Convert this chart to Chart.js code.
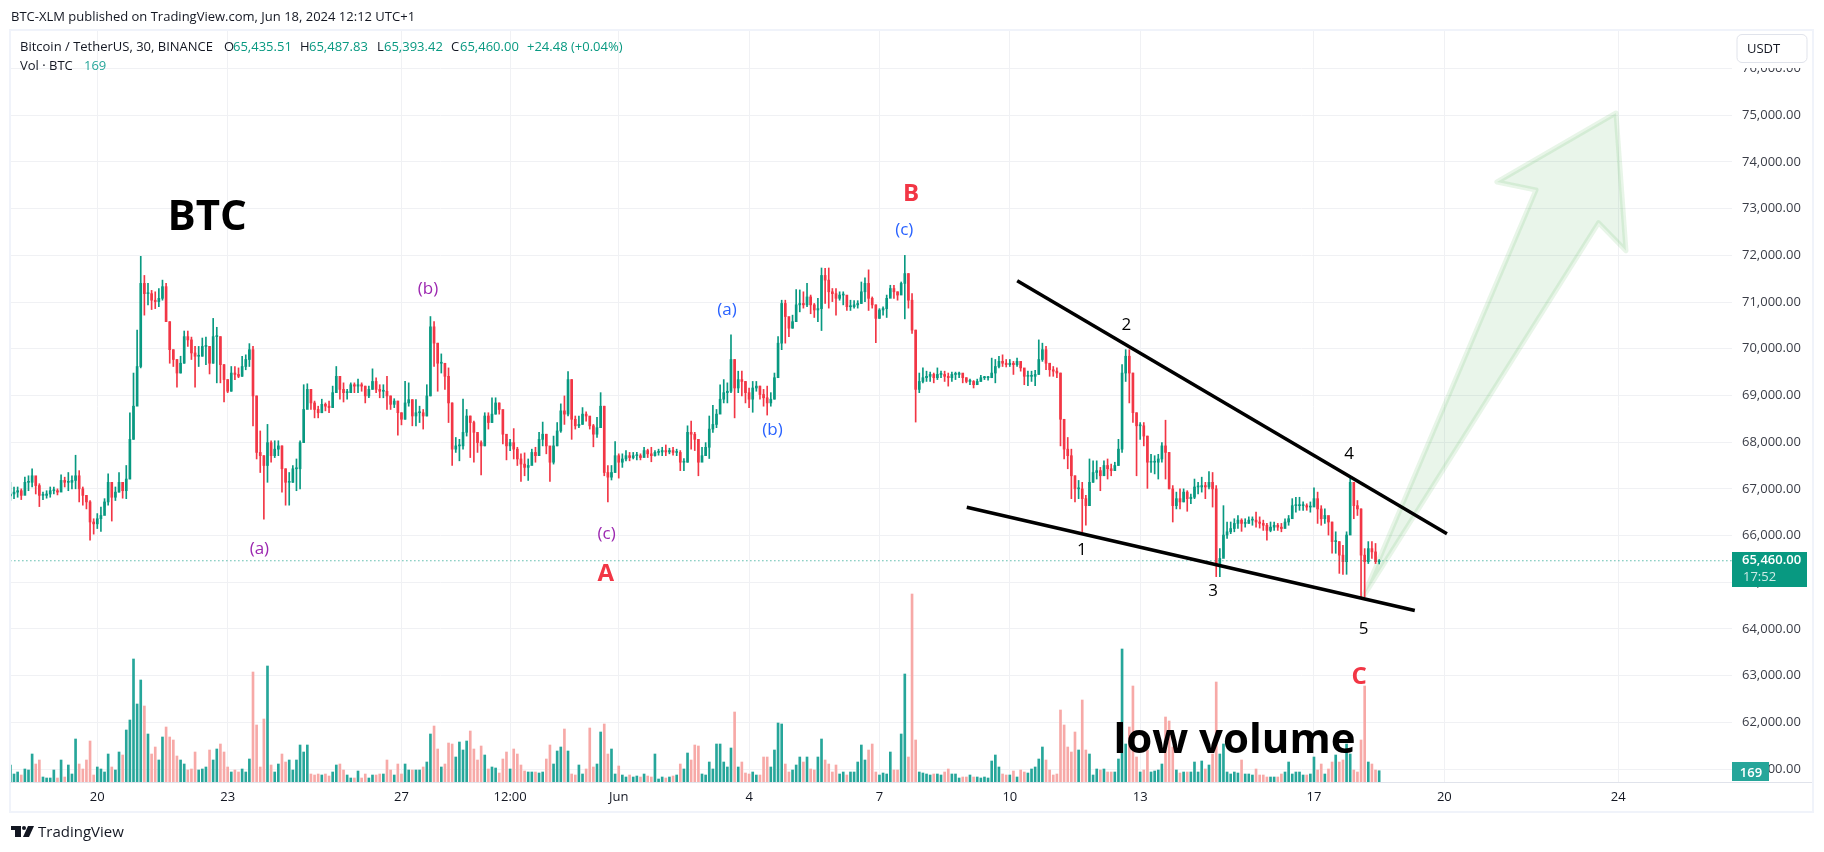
<!DOCTYPE html>
<html>
<head>
<meta charset="utf-8">
<title>BTC 30m</title>
<script src="https://cdn.jsdelivr.net/npm/chart.js@4"></script>
<style>
	body { margin: 0; background: #fff; }
	canvas { display: block; }
</style>
</head>
<body>
<canvas id="btc" width="1824" height="852"></canvas>
<script>
// BTCUSDT, one bar per 2 hours. Day 0 is May 20.
const firstDay = -2;
const barsPerDay = 12;
const firstOpen = 66850;

const closes = [
66890,66930,66960,66860,67140,67140,67280,67070,66860,66860,66890,66960,
66960,66930,67180,67140,67140,67180,67280,67000,66860,66720,66290,66250,
66360,66430,66720,67140,66820,66930,67140,66960,67210,68060,68770,69620,71400,71180,71180,71040,71010,71080,71330,70580,69980,69770,69480,69690,
70260,70190,69910,69840,69840,70050,70050,69690,70260,70260,69660,69340,
69090,69480,69450,69410,69620,69770,69980,68990,67780,67710,67500,67990,
67710,67850,67920,67430,67140,67140,67430,67430,67990,68700,69130,68840,
68700,68630,68810,68770,68740,69060,69410,69130,69060,69060,69230,69200,
69230,69200,68990,69130,69300,69130,69090,69090,68990,68810,68880,68630,
68490,68840,68910,68560,68630,68630,68560,68990,70470,70120,69690,69690,
69410,68840,67850,67920,67920,68210,68560,68420,68210,67990,67920,68560,
68420,68600,68840,68700,68170,67920,67990,67850,67640,67530,67460,67500,
67780,67710,68060,68170,67920,67570,67920,68240,68670,68600,69340,68490,
68350,68380,68600,68560,68350,68170,68310,68770,67350,67250,67350,67710,
67570,67640,67710,67670,67710,67710,67670,67820,67750,67710,67780,67790,
67820,67790,67820,67780,67780,67570,67570,68210,68170,68060,67570,67710,
67890,68280,68380,68600,68920,69060,69090,69770,69160,69340,69300,69060,
68920,69160,69200,69020,68950,68840,68920,69380,70120,70970,70690,70440,
70580,70940,70970,70940,71110,70940,70830,70860,71570,71470,71220,71180,
71080,71150,71150,70900,70900,70940,70970,71220,71400,71080,70940,70650,
70830,70860,71080,71290,71220,71150,71400,71610,71040,70400,69130,69300,
69380,69410,69450,69380,69450,69450,69410,69380,69450,69450,69480,69380,
69300,69300,69230,69300,69380,69380,69380,69480,69620,69730,69690,69660,
69690,69660,69730,69590,69410,69410,69410,69450,69770,69980,69690,69550,
69520,69480,68490,67850,67710,67280,67000,67000,66790,66640,67140,67350,
67390,67280,67500,67430,67390,67500,67850,69480,69840,69480,68630,68350,
68350,68130,67570,67570,67570,67640,67920,67780,67000,66640,66790,66720,
66930,66790,66820,67040,67040,67070,67040,67140,67000,65370,65510,66010,
66080,66150,66260,66330,66260,66260,66330,66330,66290,66260,66220,66110,
66180,66220,66180,66150,66290,66360,66640,66640,66640,66640,66610,66610,
66790,66570,66360,66430,66290,65870,65870,65580,65440,66010,67140,66640,
66570,65580,65440,65720,65650,65440,65460
];
const highs = [
67140,67040,67040,67000,67250,67280,67430,67250,67110,66930,66960,67040,
67040,67000,67300,67250,67350,67280,67720,67390,67040,66860,66750,66360,
66470,66610,66790,67320,67000,67040,67350,67140,67500,68630,69480,70400,71980,71570,71400,71250,71220,71290,71470,71400,70580,69980,69770,69840,
70380,70380,70250,70050,70050,70230,70250,70050,70650,70460,70260,69660,
69340,69620,69620,69590,69840,69870,70110,70050,68990,68240,67710,68380,
68030,68030,68030,67920,67430,67350,67500,67640,68030,69230,69250,69130,
68880,68770,68920,68840,68880,69200,69620,69410,69270,69130,69270,69270,
69350,69270,69200,69200,69570,69380,69230,69230,69410,68990,68930,68880,
68630,69300,69270,68910,68910,68770,68700,69230,70690,70580,70120,69890,
69690,69590,68840,68100,68060,68920,68700,68560,68450,68170,68030,68630,
68630,68950,68950,68840,68670,68060,68060,68290,67890,67750,67770,67640,
67850,67890,68210,68430,68170,67890,68130,68420,68820,68990,69510,69340,
68560,68560,68740,68650,68530,68380,68530,69060,68770,67500,67500,68010,
67750,67750,67820,67780,67780,67780,67750,67890,67850,67890,67820,67850,
67890,67940,67870,67890,67850,67820,67650,68350,68450,68210,68060,67890,
67990,68560,68790,68700,69230,69340,69270,70300,69770,69520,69520,69300,
69160,69300,69300,69200,69130,69200,69060,69480,70260,71040,71040,70650,
70720,71270,71260,71220,71400,71150,70970,71080,71730,71720,71730,71290,
71290,71220,71220,71100,71040,71030,71030,71430,71520,71690,71110,70940,
70860,70900,71150,71360,71360,71220,71430,72000,71610,71180,70400,69480,
69590,69520,69500,69480,69590,69520,69520,69480,69500,69500,69500,69450,
69380,69350,69320,69350,69430,69410,69410,69800,69770,69840,69870,69770,
69770,69730,69800,69690,69550,69520,69520,69540,70190,70120,70050,69690,
69620,69590,69480,68490,68100,67850,67280,67180,67140,66860,67640,67600,
67600,67460,67600,67640,67530,67570,68060,69660,69980,69980,69480,68630,
68420,68420,68130,67740,67710,67740,67990,68470,67780,67070,66930,67000,
67000,66960,66890,67210,67140,67250,67140,67370,67350,67070,65720,66640,
66290,66290,66360,66430,66360,66360,66400,66400,66500,66400,66330,66260,
66290,66290,66260,66260,66360,66430,66790,66820,66820,66720,66680,66720,
67020,66930,66640,66570,66400,66290,66080,65870,65790,66080,67280,66930,
66750,66570,65720,65870,65870,65830,65487.83
];
const lows = [
66750,66790,66820,66770,66890,66960,67040,66890,66620,66770,66800,66820,
66890,66870,66960,67040,66960,67000,67000,66720,66650,66570,65900,66030,
66150,66090,66610,66650,66310,66750,66930,66800,66790,67210,68060,68920,69590,70720,70940,70840,70860,70900,71040,70580,69690,69620,69180,69480,
69690,70050,69770,69180,69620,69840,69660,69460,69690,69270,69270,68860,
69060,69090,69340,69380,69410,69550,69620,68350,67640,67350,66350,67140,
67570,67670,67710,66930,66650,66650,67140,66960,67000,67990,68770,68700,
68520,68520,68630,68670,68630,68740,69060,68920,68860,68920,69060,69060,
69060,69090,68840,68950,69130,69060,68950,68950,68700,68700,68740,68150,
68370,68490,68770,68350,68350,68420,68280,68560,68990,69620,69090,69480,
69130,68420,67500,67780,67600,67850,68130,67670,67570,67780,67300,67920,
68280,68420,68600,68600,67960,67620,67820,67640,67500,67160,67280,67180,
67600,67570,67710,67920,67750,67160,67530,67920,68210,68380,68560,68060,
68280,68310,68380,68450,68280,67900,68100,68310,67280,66720,67190,67350,
67230,67460,67600,67600,67640,67620,67620,67710,67670,67580,67700,67720,
67710,67710,67750,67720,67710,67390,67390,67570,67850,67820,67280,67600,
67710,67650,68210,68310,68630,68840,68840,69060,68520,69060,68990,68840,
68740,68640,69090,68920,68770,68580,68770,68920,69870,69980,70120,70260,
70440,70650,70790,70870,70900,70750,70670,70580,70390,70970,70870,71010,
70720,71040,70940,70820,70820,70870,70870,70970,71010,70820,70870,70130,
70650,70720,70670,71110,71080,71040,71190,70640,70870,70330,68430,69060,
69270,69300,69300,69270,69340,69380,69300,69200,69300,69340,69380,69270,
69270,69230,69160,69250,69300,69340,69330,69380,69270,69590,69620,69610,
69620,69450,69620,69520,69230,69210,69300,69210,69450,69730,69550,69410,
69410,69380,67920,67640,67430,66790,66720,66790,66080,66220,66640,67140,
67210,66960,67280,67210,67280,67390,67500,67780,69300,68840,68420,67280,
68060,67920,67010,67350,67320,67210,67570,67210,67000,66290,66570,66570,
66720,66520,66680,66790,66890,66930,66790,67000,66610,65120,65120,65550,
65940,66040,66080,66150,66090,66180,66260,66220,66180,66160,66110,65900,
66080,66110,66110,66080,66180,66220,66500,66500,66540,66540,66540,66500,
66640,66260,66220,66260,66010,65620,65620,65190,65170,65170,66180,66360,
66430,64690,64690,65400,65510,65400,65393.42
];
const volumes = [
255,120,150,105,195,180,420,270,330,75,60,60,
180,60,330,75,255,120,645,270,195,330,615,105,
225,195,150,420,225,180,450,405,780,930,1845,1170,1530,1140,720,420,525,330,675,825,675,630,390,330,
270,180,195,450,180,195,225,480,330,495,570,450,
225,150,180,150,195,150,345,1650,855,225,945,1740,
255,150,270,420,300,330,180,330,555,450,555,120,
105,120,105,120,90,150,255,270,180,105,60,60,
165,60,120,60,105,105,120,120,330,180,105,270,
120,270,180,180,180,180,225,300,720,840,495,225,
270,585,570,375,600,480,615,765,495,330,540,405,
195,225,210,135,345,450,195,495,420,255,165,150,
150,150,135,150,345,555,270,465,525,795,465,120,
105,255,120,195,810,225,270,750,870,420,495,120,
240,105,75,105,75,90,75,120,90,75,420,45,
75,60,75,90,105,270,195,435,330,555,540,120,
105,300,195,570,570,300,225,510,1050,225,300,135,
120,150,105,105,375,375,225,480,885,870,270,150,
180,255,375,300,375,195,180,375,645,330,270,150,
255,120,150,105,150,150,300,555,330,480,570,150,
105,135,120,450,180,180,720,1620,375,2820,630,150,
135,120,105,120,120,105,150,195,120,120,60,75,
75,105,75,75,60,75,60,315,405,225,120,105,
105,165,75,180,150,135,195,225,345,525,330,180,
105,120,1080,855,525,450,750,480,1230,480,420,105,
195,180,195,150,150,150,345,1995,570,825,1440,375,
150,180,480,150,165,180,270,975,915,525,180,135,
150,150,150,300,150,315,195,255,420,1500,420,570,
150,120,150,135,330,120,120,105,195,105,105,75,
75,75,75,120,150,300,120,150,150,105,105,120,
375,180,270,120,195,300,405,300,330,570,420,180,
150,630,1440,300,270,180,169
];

// axis ticks
const tickDays = [0, 3, 7, 9.5, 12, 15, 18, 21, 24, 28, 31, 35];
const tickLabels = ['20', '23', '27', '12:00', 'Jun', '4', '7', '10', '13', '17', '20', '24'];
const priceTicks = [61000, 62000, 63000, 64000, 65000, 66000, 67000, 68000, 69000, 70000, 71000, 72000, 73000, 74000, 75000, 76000];

// drawings on the chart (day, price)
const upperLineDays = [21.17, 31.06];
const upperLinePrices = [71456, 66036];
const lowerLineDays = [20.01, 30.32];
const lowerLinePrices = [66607, 64394];
const arrowDays = [34.95, 32.21, 33.11, 29.13, 34.55, 35.18];
const arrowPrices = [75049, 73572, 73400, 64686, 72700, 72100];
const lastPrice = 65460;

const noteTexts = ['BTC', '(b)', '(a)', '(c)', 'A', '(a)', '(b)', '(c)', 'B', '2', '1', '3', '4', '5', 'C', 'low volume'];
const noteDays = [2.53, 7.61, 3.73, 11.72, 11.70, 14.49, 15.54, 18.57, 18.73, 23.68, 22.66, 25.68, 28.81, 29.14, 29.04, 26.17];
const notePrices = [72810, 71281, 65716, 66036, 65180, 70832, 68263, 72545, 73310, 70510, 65688, 64802, 67743, 63997, 62960, 61610];
const noteKinds = ['big', 'pur', 'pur', 'pur', 'red', 'blu', 'blu', 'blu', 'red', 'blk', 'blk', 'blk', 'blk', 'blk', 'red', 'big'];

const GREEN = '#089981';
const RED = '#f23645';
const FONT = '"Open Sans", sans-serif';
const noteStyle = {
	big: ['700 42px ' + FONT, '#000000'],
	pur: ['17px ' + FONT, '#9c27b0'],
	blu: ['17px ' + FONT, '#2962ff'],
	red: ['700 24px ' + FONT, RED],
	blk: ['17px ' + FONT, '#000000']
};

const barDays = closes.map((c, i) => firstDay + i / barsPerDay);
const opens = closes.map((c, i) => i ? closes[i - 1] : firstOpen);
const barUp = closes.map((c, i) => c >= opens[i]);

function text(ctx, str, x, y, font, color, align) {
	ctx.font = font;
	ctx.fillStyle = color;
	ctx.textAlign = align || 'left';
	ctx.textBaseline = 'middle';
	ctx.fillText(str, x, y);
}

// the green arrow goes under the candles
const arrowPlugin = {
	id: 'arrow',
	beforeDatasetsDraw(chart) {
		const {ctx, scales, chartArea} = chart;
		ctx.save();
		ctx.beginPath();
		ctx.rect(chartArea.left, chartArea.top, chartArea.width, chartArea.height);
		ctx.clip();
		ctx.beginPath();
		arrowDays.forEach((d, i) => {
			ctx.lineTo(scales.x.getPixelForValue(d), scales.y.getPixelForValue(arrowPrices[i]));
		});
		ctx.closePath();
		ctx.fillStyle = 'rgba(76,175,80,0.12)';
		ctx.fill();
		ctx.lineJoin = 'round';
		ctx.lineWidth = 5;
		ctx.strokeStyle = 'rgba(76,175,80,0.13)';
		ctx.stroke();
		ctx.restore();
	}
};

// text, frame and price tags of the TradingView snapshot
const framePlugin = {
	id: 'frame',
	afterDraw(chart) {
		const {ctx, scales} = chart;
		ctx.save();

		noteTexts.forEach((t, i) => {
			const st = noteStyle[noteKinds[i]];
			text(ctx, t, scales.x.getPixelForValue(noteDays[i]), scales.y.getPixelForValue(notePrices[i]), st[0], st[1], 'center');
		});

		// frame
		ctx.strokeStyle = '#f0f3fa';
		ctx.lineWidth = 2;
		ctx.strokeRect(10, 30, 1803, 782);
		ctx.strokeStyle = '#e0e3eb';
		ctx.lineWidth = 1;
		ctx.beginPath();
		ctx.moveTo(10, 782.5);
		ctx.lineTo(1812, 782.5);
		ctx.stroke();

		// hide the part of the 76,000 label above the plot
		ctx.fillStyle = '#ffffff';
		ctx.fillRect(1736, 32, 76, 36);

		// header + legend
		const f13 = '13px ' + FONT;
		text(ctx, 'BTC-XLM published on TradingView.com, Jun 18, 2024 12:12 UTC+1', 11, 17, f13, '#131722');
		text(ctx, 'Bitcoin / TetherUS, 30, BINANCE', 20, 47, f13, '#131722');
		text(ctx, 'O', 224, 47, f13, '#131722');
		text(ctx, '65,435.51', 233, 47, f13, GREEN);
		text(ctx, 'H', 300, 47, f13, '#131722');
		text(ctx, '65,487.83', 309, 47, f13, GREEN);
		text(ctx, 'L', 377, 47, f13, '#131722');
		text(ctx, '65,393.42', 384, 47, f13, GREEN);
		text(ctx, 'C', 451, 47, f13, '#131722');
		text(ctx, '65,460.00', 460, 47, f13, GREEN);
		text(ctx, '+24.48 (+0.04%)', 527, 47, f13, GREEN);
		text(ctx, 'Vol · BTC', 20, 66, f13, '#131722');
		text(ctx, '169', 84, 66, f13, '#26a69a');

		// USDT button
		ctx.fillStyle = '#ffffff';
		ctx.strokeStyle = '#e0e3eb';
		ctx.beginPath();
		ctx.roundRect(1737, 34.5, 70, 28, 5);
		ctx.fill();
		ctx.stroke();
		text(ctx, 'USDT', 1747, 49, f13, '#131722');

		// last price tag
		ctx.fillStyle = GREEN;
		ctx.fillRect(1732, 552, 75, 35);
		text(ctx, '65,460.00', 1742, 560, '600 13px ' + FONT, '#ffffff');
		text(ctx, '17:52', 1743, 577, f13, 'rgba(255,255,255,0.8)');

		// volume tag
		ctx.fillStyle = '#26a69a';
		ctx.fillRect(1732, 762, 37, 19);
		text(ctx, '169', 1751, 773, '600 13px ' + FONT, '#ffffff', 'center');

		// TradingView mark
		ctx.fillStyle = '#131722';
		ctx.fillRect(11, 826, 10, 4);
		ctx.fillRect(15, 826, 6, 11);
		ctx.beginPath();
		ctx.arc(24, 828, 2, 0, Math.PI * 2);
		ctx.fill();
		ctx.beginPath();
		ctx.moveTo(28, 826);
		ctx.lineTo(34, 826);
		ctx.lineTo(29, 837);
		ctx.lineTo(23, 837);
		ctx.closePath();
		ctx.fill();
		text(ctx, 'TradingView', 38, 833, '15px ' + FONT, '#131722');

		ctx.restore();
	}
};

new Chart(document.getElementById('btc'), {
	type: 'bar',
	data: {
		datasets: [
			{
				type: 'line',
				order: 1,
				data: upperLineDays.map((d, i) => ({x: d, y: upperLinePrices[i]})),
				borderColor: '#000000',
				borderWidth: 3.5,
				pointRadius: 0
			},
			{
				type: 'line',
				order: 1,
				data: lowerLineDays.map((d, i) => ({x: d, y: lowerLinePrices[i]})),
				borderColor: '#000000',
				borderWidth: 3.5,
				pointRadius: 0
			},
			{
				type: 'line',
				order: 2,
				data: [{x: firstDay, y: lastPrice}, {x: 38, y: lastPrice}],
				borderColor: GREEN,
				borderWidth: 1,
				borderDash: [1, 3],
				pointRadius: 0
			},
			{
				// candle bodies
				order: 3,
				data: barDays.map((d, i) => ({x: d, y: [opens[i], closes[i]]})),
				backgroundColor: barUp.map(up => up ? GREEN : RED),
				barThickness: 2,
				minBarLength: 1
			},
			{
				// wicks
				order: 4,
				data: barDays.map((d, i) => ({x: d, y: [lows[i], highs[i]]})),
				backgroundColor: barUp.map(up => up ? GREEN : RED),
				barThickness: 1
			},
			{
				order: 5,
				yAxisID: 'yVol',
				data: barDays.map((d, i) => ({x: d, y: volumes[i]})),
				backgroundColor: barUp.map(up => up ? '#26a69a' : '#f7a9a7'),
				barThickness: 2
			}
		]
	},
	options: {
		responsive: false,
		devicePixelRatio: 1,
		animation: false,
		grouped: false,
		layout: {padding: {left: 10, top: 31, right: 11, bottom: 39}},
		plugins: {
			legend: {display: false},
			tooltip: {enabled: false}
		},
		scales: {
			x: {
				type: 'linear',
				offset: false,
				min: -2.009,
				max: 37.62,
				grid: {color: '#f0f1f4', drawTicks: false, offset: false},
				border: {display: false},
				afterBuildTicks(scale) {
					scale.ticks = tickDays.map(v => ({value: v}));
				},
				afterFit(scale) {
					scale.height = 31;
				},
				ticks: {
					autoSkip: false,
					maxRotation: 0,
					padding: 7,
					color: '#131722',
					font: {family: FONT, size: 13},
					callback: (v, i) => tickLabels[i]
				}
			},
			y: {
				position: 'right',
				min: 60722,
				max: 76805,
				grid: {color: '#f0f1f4', drawTicks: false},
				border: {display: false},
				afterBuildTicks(scale) {
					scale.ticks = priceTicks.map(v => ({value: v}));
				},
				afterFit(scale) {
					scale.width = 81;
				},
				ticks: {
					autoSkip: false,
					padding: 10,
					color: '#3a3d47',
					font: {family: FONT, size: 13},
					callback: v => v.toLocaleString('en-US', {minimumFractionDigits: 2})
				}
			},
			yVol: {
				display: false,
				min: 0,
				max: 11265
			}
		}
	},
	plugins: [arrowPlugin, framePlugin]
});
</script>
</body>
</html>
